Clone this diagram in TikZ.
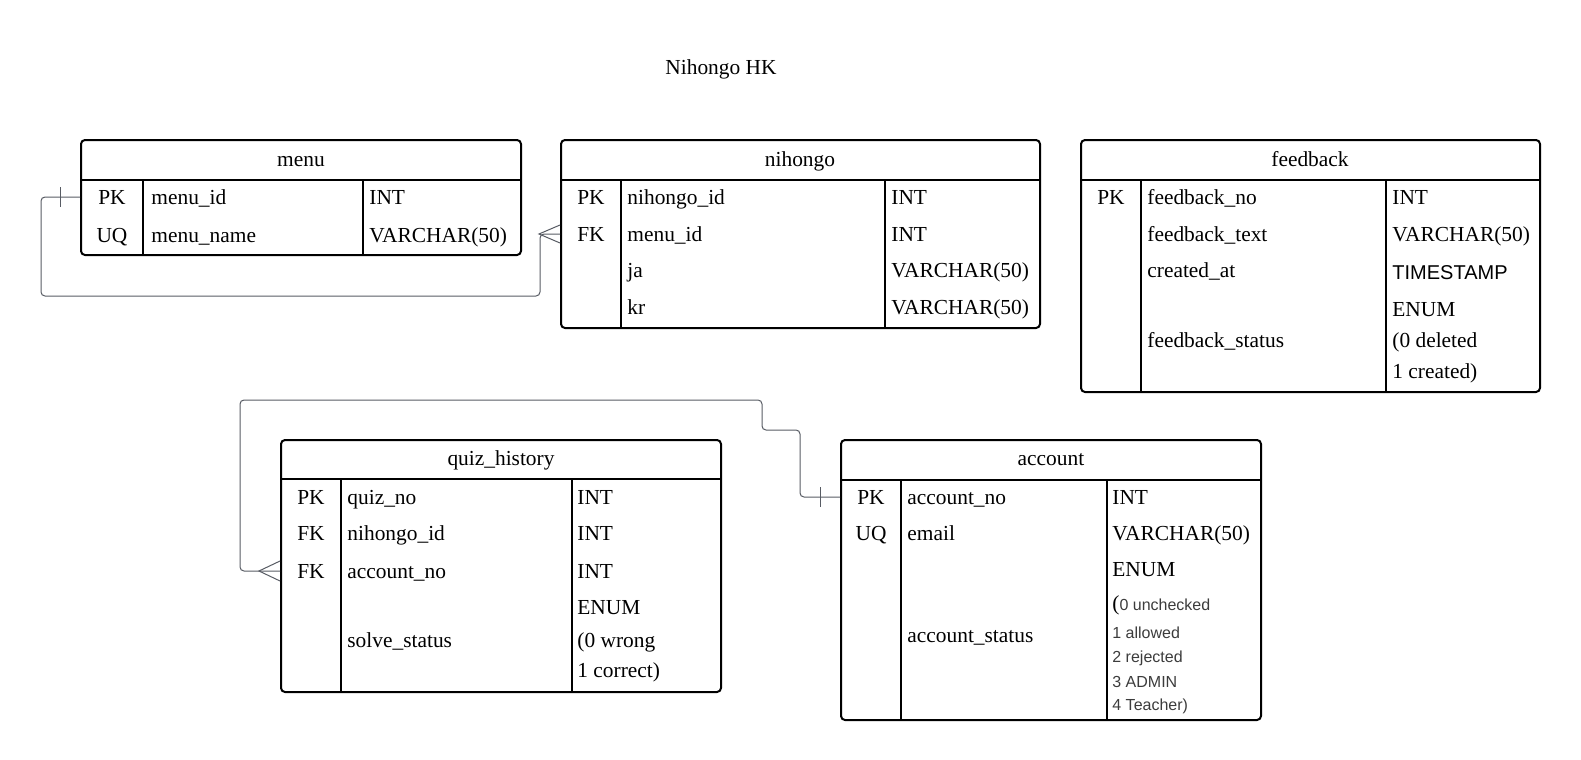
\documentclass[tikz,border=0pt]{standalone}
\usepackage{fontspec}
\setmainfont{Liberation Serif}
\newfontfamily\sansf{Liberation Sans}
\usetikzlibrary{fit}
\definecolor{lk}{RGB}{88,92,100}
\definecolor{evc}{RGB}{60,60,60}
\tikzset{tbl/.style={draw,line width=1pt,rounded corners=2pt,inner sep=0pt},
 rule/.style={line width=1pt},
 link/.style={draw=lk,line width=.5pt},
 fld/.style={inner sep=0pt,text height=7pt,text depth=0pt,anchor=west},
 keyc/.style={fld,anchor=center},
 stamp/.style={fld,font=\sansf\fontsize{10}{12}\selectfont},
 enumv/.style={fld,font=\sansf\fontsize{8}{9}\selectfont,text=evc,text height=5.8pt},
 every node/.style={font=\fontsize{10.7}{12}\selectfont}}
\begin{document}
\begin{tikzpicture}[x=.5pt,y=-.5pt]
\useasboundingbox (0,0) rectangle (1581,760);
\node[keyc] (title) at (721,68) {Nihongo HK};
% menu
\node[tbl,fit={(81,140)(521,255)}] (menu) {};
\draw[rule] (81,180) -- (521,180) (143,180) -- (143,255) (363,180) -- (363,255);
\node[keyc] at (301,159) {menu};
\node[keyc] (menupk) at (112,197) {PK};\node[fld] at (151,197) {menu\_id};\node[fld] at (369,197) {INT};
\node[keyc] at (112,235) {UQ};\node[fld] at (151,235) {menu\_name};\node[fld] at (369,235) {VARCHAR(50)};
% nihongo
\node[tbl,fit={(561,140)(1040,328)}] (nihongo) {};
\draw[rule] (561,180) -- (1040,180) (621,180) -- (621,328) (885,180) -- (885,328);
\node[keyc] at (800,159) {nihongo};
\node[keyc] at (591,197) {PK};\node[fld] at (627,197) {nihongo\_id};\node[fld] at (891,197) {INT};
\node[keyc] (nihfk) at (591,234) {FK};\node[fld] at (627,234) {menu\_id};\node[fld] at (891,234) {INT};
\node[fld] at (627,270) {ja};\node[fld] at (891,270) {VARCHAR(50)};
\node[fld] at (627,307) {kr};\node[fld] at (891,307) {VARCHAR(50)};
% feedback
\node[tbl,fit={(1081,140)(1540,392)}] (feedback) {};
\draw[rule] (1081,180) -- (1540,180) (1141,180) -- (1141,392) (1386,180) -- (1386,392);
\node[keyc] at (1310,159) {feedback};
\node[keyc] at (1111,197) {PK};\node[fld] at (1147,197) {feedback\_no};\node[fld] at (1392,197) {INT};
\node[fld] at (1147,234) {feedback\_text};\node[fld] at (1392,234) {VARCHAR(50)};
\node[fld] at (1147,270) {created\_at};\node[stamp] at (1392,272) {TIMESTAMP};
\node[fld] at (1392,309) {ENUM};
\node[fld] at (1147,340) {feedback\_status};\node[fld] at (1392,340) {(0 deleted};
\node[fld] at (1392,371) {1 created)};
% quiz_history
\node[tbl,fit={(281,440)(721,692)}] (quiz) {};
\draw[rule] (281,479) -- (721,479) (341,479) -- (341,692) (572,479) -- (572,692);
\node[keyc] at (501,458) {quiz\_history};
\node[keyc] at (311,497) {PK};\node[fld] at (347,497) {quiz\_no};\node[fld] at (577,497) {INT};
\node[keyc] at (311,533) {FK};\node[fld] at (347,533) {nihongo\_id};\node[fld] at (577,533) {INT};
\node[keyc] (quizfk) at (311,571) {FK};\node[fld] at (347,571) {account\_no};\node[fld] at (577,571) {INT};
\node[fld] at (577,607) {ENUM};
\node[fld] at (347,640) {solve\_status};\node[fld] at (577,640) {(0 wrong};
\node[fld] at (577,670) {1 correct)};
% account
\node[tbl,fit={(841,440)(1261,720)}] (account) {};
\draw[rule] (841,480) -- (1261,480) (901,480) -- (901,720) (1107,480) -- (1107,720);
\node[keyc] at (1051,458) {account};
\node[keyc] (acctpk) at (871,497) {PK};\node[fld] at (907,497) {account\_no};\node[fld] at (1112,497) {INT};
\node[keyc] at (871,533) {UQ};\node[fld] at (907,533) {email};\node[fld] at (1112,533) {VARCHAR(50)};
\node[fld] at (1112,569) {ENUM};
\node[fld] at (1112,603) {(\sansf\fontsize{8}{9}\selectfont\color{evc}0 unchecked};
\node[fld] at (907,635) {account\_status};\node[enumv] at (1112,633) {1 allowed};
\node[enumv] at (1112,657) {2 rejected};
\node[enumv] at (1112,682) {3 ADMIN};
\node[enumv] at (1112,705) {4 Teacher)};
% relations
\draw[link,rounded corners=2pt] (menupk -| menu.west) -- (41,197) -- (41,296) -- (540,296) -- (540,234) -- (nihfk -| nihongo.west);
\draw[link] (menupk -| menu.west) ++(-20,-10) -- ++(0,20);
\draw[link] (nihfk -| nihongo.west) ++(0,-9) -- ++(-21,9) -- ++(21,9);
\draw[link,rounded corners=2pt] (acctpk -| account.west) -- (800,497) -- (800,430) -- (762,430) -- (762,400) -- (240,400) -- (240,571) -- (quizfk -| quiz.west);
\draw[link] (acctpk -| account.west) ++(-20,-10) -- ++(0,20);
\draw[link] (quizfk -| quiz.west) ++(0,-10) -- ++(-21,10) -- ++(21,10);
\end{tikzpicture}
\end{document}
